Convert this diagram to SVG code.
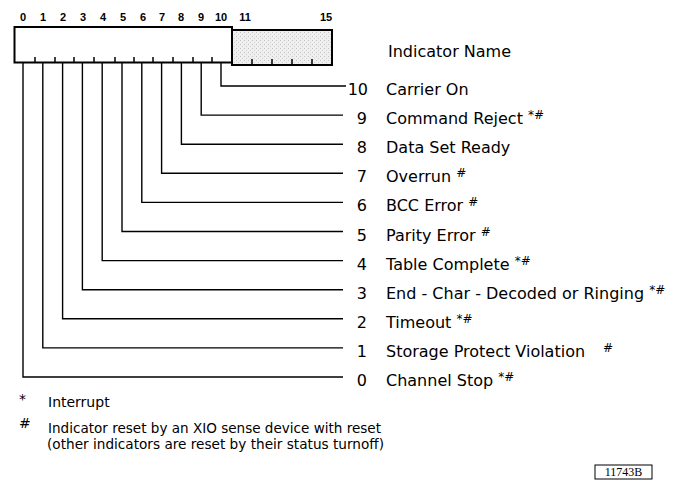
<svg xmlns="http://www.w3.org/2000/svg" width="673" height="488" viewBox="0 0 673 488">
<style>
.bit{font-family:"Liberation Sans",Arial,sans-serif;font-weight:bold;font-size:11px;text-anchor:middle;fill:#000}
.num{font-family:"DejaVu Sans",sans-serif;font-size:16px;text-anchor:end;fill:#000}
.lbl{font-family:"DejaVu Sans",sans-serif;font-size:16px;fill:#000}
.sup{font-size:12px}
.note{font-family:"DejaVu Sans",sans-serif;font-size:14px;fill:#000}
.box{fill:#fff;stroke:#000;stroke-width:2}
.shade{fill:url(#dots);stroke:#000;stroke-width:2}
.tick{stroke:#000;stroke-width:1.5}
.conn{fill:none;stroke:#000;stroke-width:1.4}
</style>
<defs>
<pattern id="dots" width="4" height="4" patternUnits="userSpaceOnUse">
<rect width="4" height="4" fill="#efefef"/>
<rect x="0" y="0" width="1" height="1" fill="#c4c4c4"/>
<rect x="2" y="2" width="1" height="1" fill="#d2d2d2"/>
</pattern>
</defs>

<g id="register">
<rect class="box" x="14.5" y="27" width="217.5" height="35.5"/>
<rect class="shade" x="232" y="30" width="100" height="35"/>
<g class="tick">
<line x1="35" y1="57" x2="35" y2="62"/><line x1="55" y1="57" x2="55" y2="62"/>
<line x1="74" y1="57" x2="74" y2="62"/><line x1="94" y1="57" x2="94" y2="62"/>
<line x1="115" y1="57" x2="115" y2="62"/><line x1="134" y1="57" x2="134" y2="62"/>
<line x1="153" y1="57" x2="153" y2="62"/><line x1="173" y1="57" x2="173" y2="62"/>
<line x1="193" y1="57" x2="193" y2="62"/><line x1="212" y1="57" x2="212" y2="62"/>
<line x1="252" y1="59" x2="252" y2="64"/><line x1="272" y1="59" x2="272" y2="64"/>
<line x1="292" y1="59" x2="292" y2="64"/><line x1="312" y1="59" x2="312" y2="64"/>
</g>
<g class="bit">
<text x="23" y="21">0</text><text x="43" y="21">1</text><text x="63" y="21">2</text>
<text x="83" y="21">3</text><text x="103" y="21">4</text><text x="123" y="21">5</text>
<text x="143" y="21">6</text><text x="162" y="21">7</text><text x="181" y="21">8</text>
<text x="201" y="21">9</text><text x="221" y="21">10</text><text x="245" y="21">11</text>
<text x="326" y="21">15</text>
</g>
</g>

<g id="connectors">
<path class="conn" d="M221,63 V86 H346"/>
<path class="conn" d="M201.2,63 V115.1 H343"/>
<path class="conn" d="M181.4,63 V144.2 H343"/>
<path class="conn" d="M161.6,63 V173.3 H343"/>
<path class="conn" d="M141.8,63 V202.4 H343"/>
<path class="conn" d="M122,63 V231.5 H343"/>
<path class="conn" d="M102.2,63 V260.6 H343"/>
<path class="conn" d="M82.4,63 V289.7 H343"/>
<path class="conn" d="M62.6,63 V318.8 H343"/>
<path class="conn" d="M42.8,63 V347.9 H343"/>
<path class="conn" d="M23,63 V377 H343"/>
</g>

<g id="header"><text class="lbl" x="388" y="57">Indicator Name</text></g>

<g id="ind10"><text class="num" x="368" y="95">10</text><text class="lbl" x="386" y="95">Carrier On</text></g>
<g id="ind9"><text class="num" x="367" y="124.1">9</text><text class="lbl" x="386" y="124.1">Command Reject <tspan class="sup" dy="-5">*#</tspan></text></g>
<g id="ind8"><text class="num" x="367" y="153.2">8</text><text class="lbl" x="386" y="153.2">Data Set Ready</text></g>
<g id="ind7"><text class="num" x="367" y="182.3">7</text><text class="lbl" x="386" y="182.3">Overrun <tspan class="sup" dy="-5">#</tspan></text></g>
<g id="ind6"><text class="num" x="367" y="211.4">6</text><text class="lbl" x="386" y="211.4">BCC Error <tspan class="sup" dy="-5">#</tspan></text></g>
<g id="ind5"><text class="num" x="367" y="240.5">5</text><text class="lbl" x="386" y="240.5">Parity Error <tspan class="sup" dy="-5">#</tspan></text></g>
<g id="ind4"><text class="num" x="367" y="269.6">4</text><text class="lbl" x="386" y="269.6">Table Complete <tspan class="sup" dy="-5">*#</tspan></text></g>
<g id="ind3"><text class="num" x="367" y="298.7">3</text><text class="lbl" x="386" y="298.7">End - Char - Decoded or Ringing <tspan class="sup" dy="-5">*#</tspan></text></g>
<g id="ind2"><text class="num" x="367" y="327.8">2</text><text class="lbl" x="386" y="327.8">Timeout <tspan class="sup" dy="-5">*#</tspan></text></g>
<g id="ind1"><text class="num" x="367" y="356.9">1</text><text class="lbl" x="386" y="356.9">Storage Protect Violation<tspan class="sup" x="603" dy="-5">#</tspan></text></g>
<g id="ind0"><text class="num" x="367" y="386">0</text><text class="lbl" x="386" y="386">Channel Stop <tspan class="sup" dy="-5">*#</tspan></text></g>

<g id="notes">
<text class="note" x="19" y="404">*</text>
<text class="note" x="48" y="407">Interrupt</text>
<text class="note" x="19" y="428" font-size="12">#</text>
<text class="note" x="48" y="433" textLength="333" lengthAdjust="spacingAndGlyphs">Indicator reset by an XIO sense device with reset</text>
<text class="note" x="47" y="449" textLength="337" lengthAdjust="spacingAndGlyphs">(other indicators are reset by their status turnoff)</text>
</g>

<g id="figid">
<rect x="595" y="465" width="57" height="14" fill="none" stroke="#000" stroke-width="1"/>
<text x="623.5" y="476" font-family="Liberation Serif,serif" font-size="12" text-anchor="middle">11743B</text>
</g>
</svg>
